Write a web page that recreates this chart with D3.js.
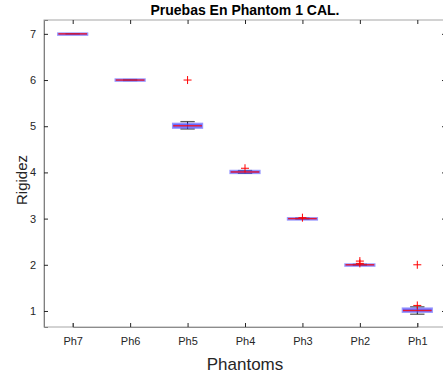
<!DOCTYPE html>
<meta charset="utf-8">
<html>
<head>
<script src="https://d3js.org/d3.v7.min.js"></script>
<style>
  body { margin: 0; background: #fff; }
  text { font-family: "Liberation Sans", Arial, sans-serif; }
</style>
</head>
<body>
<div id="box_viz"></div>
<script>
// categories, left to right
var phantoms = ["Ph7", "Ph6", "Ph5", "Ph4", "Ph3", "Ph2", "Ph1"];
// box stats
var medians  = [7.00, 6.00, 5.01, 4.01, 3.00, 2.00, 1.01];
var q1s      = [6.995, 5.99, 4.97, 3.99, 2.995, 1.995, 0.985];
var q3s      = [7.005, 6.01, 5.05, 4.03, 3.005, 2.005, 1.05];
var lowWhisk = [7.00, 5.99, 4.94, 3.98, 2.99, 1.99, 0.93];
var upWhisk  = [7.00, 6.01, 5.10, 4.04, 3.01, 2.01, 1.09];
var outliers = [[], [], [6.0], [4.09], [3.02], [2.08, 2.03], [1.12, 2.0]];
var yTicks = [1, 2, 3, 4, 5, 6, 7];

var width = 443, height = 378;
var margin = {top: 20, right: -3, bottom: 51, left: 44};

var svg = d3.select("#box_viz").append("svg")
    .attr("width", width)
    .attr("height", height);

var x = d3.scalePoint()
    .domain(phantoms)
    .range([margin.left + 28.7, width - margin.right - 28.7]);
var step = x.step();

var y = d3.scaleLinear()
    .domain([0.653, 7.30])
    .range([height - margin.bottom, margin.top]);

var x0 = margin.left, x1 = width - margin.right;
var y0 = height - margin.bottom, y1 = margin.top;

// box frame
svg.append("rect")
    .attr("x", x0).attr("y", y1)
    .attr("width", x1 - x0).attr("height", y0 - y1)
    .attr("fill", "none").attr("stroke", "#a6a6a6");

// axes (ticks inward)
var xAxis = d3.axisBottom(x).tickSize(-4).tickPadding(10);
svg.append("g")
    .attr("transform", `translate(0,${y0})`)
    .call(xAxis)
    .call(g => g.select(".domain").attr("stroke", "#8c8c8c"))
    .call(g => g.selectAll(".tick line").attr("stroke", "#262626"))
    .call(g => g.selectAll(".tick text").attr("font-size", 11).attr("fill", "#262626"));

svg.append("g")
    .attr("transform", `translate(0,${y1})`)
    .call(d3.axisTop(x).tickSize(-4).tickFormat(""))
    .call(g => g.select(".domain").remove())
    .call(g => g.selectAll(".tick line").attr("stroke", "#262626"));

var yAxis = d3.axisLeft(y).tickValues(yTicks).tickFormat(d3.format("d")).tickSize(-4).tickPadding(8);
svg.append("g")
    .attr("transform", `translate(${x0},0)`)
    .call(yAxis)
    .call(g => g.select(".domain").attr("stroke", "#7f7f7f"))
    .call(g => g.selectAll(".tick line").attr("stroke", "#262626"))
    .call(g => g.selectAll(".tick text").attr("font-size", 11).attr("fill", "#262626"));

svg.append("g")
    .attr("transform", `translate(${x1},0)`)
    .call(d3.axisRight(y).tickValues(yTicks).tickSize(-4).tickFormat(""))
    .call(g => g.select(".domain").remove())
    .call(g => g.selectAll(".tick line").attr("stroke", "#262626"));

// boxes
var boxW = step * 0.5, capW = step * 0.25;
var g = svg.append("g");
phantoms.forEach(function(p, i) {
    var cx = x(p);
    // whiskers
    g.append("line")
        .attr("x1", cx).attr("x2", cx)
        .attr("y1", y(upWhisk[i])).attr("y2", y(lowWhisk[i]))
        .attr("stroke", "#000").attr("stroke-width", 1);
    [upWhisk[i], lowWhisk[i]].forEach(function(v) {
        g.append("line")
            .attr("x1", cx - capW / 2).attr("x2", cx + capW / 2)
            .attr("y1", y(v)).attr("y2", y(v))
            .attr("stroke", "#333").attr("stroke-width", 1.3).attr("stroke-opacity", 0.8);
    });
    // box
    var top = y(q3s[i]), bot = y(q1s[i]);
    g.append("rect")
        .attr("x", cx - boxW / 2).attr("y", top)
        .attr("width", boxW).attr("height", Math.max(bot - top, 1))
        .attr("fill", "#5a5aff").attr("fill-opacity", 0.7)
        .attr("stroke", "#5050ff").attr("stroke-opacity", 0.6).attr("stroke-width", 2.5);
    // median
    g.append("line")
        .attr("x1", cx - boxW / 2).attr("x2", cx + boxW / 2)
        .attr("y1", y(medians[i])).attr("y2", y(medians[i]))
        .attr("stroke", "#ff0000").attr("stroke-width", 1.4).attr("stroke-opacity", 0.8);
    // outliers
    outliers[i].forEach(function(v) {
        g.append("path")
            .attr("d", `M${cx - 4},${y(v)}H${cx + 4}M${cx},${y(v) - 4}V${y(v) + 4}`)
            .attr("stroke", "#ff0000").attr("stroke-width", 1);
    });
});

// title and labels
svg.append("text")
    .attr("x", (x0 + x1) / 2).attr("y", 15)
    .attr("text-anchor", "middle")
    .attr("font-size", 14).attr("font-weight", "bold")
    .text("Pruebas En Phantom 1 CAL.");

svg.append("text")
    .attr("x", (x0 + x1) / 2).attr("y", 370)
    .attr("text-anchor", "middle")
    .attr("font-size", 17).attr("fill", "#262626")
    .text("Phantoms");

svg.append("text")
    .attr("transform", `translate(27,180) rotate(-90)`)
    .attr("text-anchor", "middle")
    .attr("font-size", 15).attr("fill", "#262626")
    .text("Rigidez");
</script>
</body>
</html>
